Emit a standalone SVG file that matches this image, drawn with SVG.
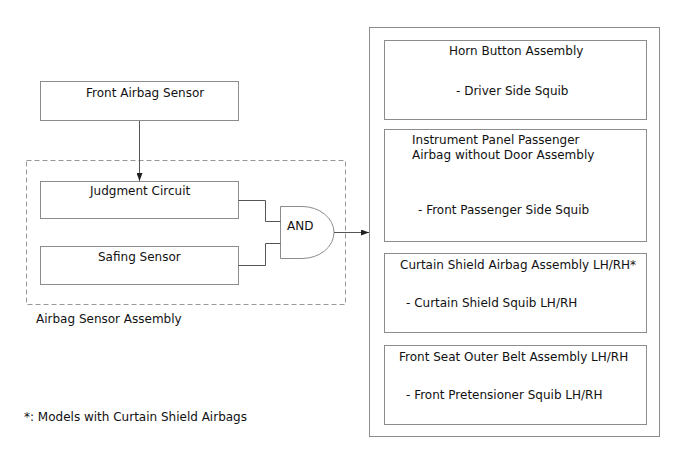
<svg xmlns="http://www.w3.org/2000/svg" width="688" height="463" viewBox="0 0 688 463">
<style>
.box{fill:#fff;stroke:#8c8c8c;stroke-width:1}
.ln{fill:none;stroke:#555;stroke-width:1}
text{font-family:"DejaVu Sans",sans-serif;font-size:12px;fill:#111}
</style>
<defs>
<marker id="ah" markerWidth="8" markerHeight="6" refX="8" refY="3" orient="auto" markerUnits="userSpaceOnUse">
<path d="M0,0 L8,3 L0,6 z" fill="#222"/>
</marker>
</defs>
<rect width="688" height="463" fill="#fff"/>
<g id="sensor-assembly">
<rect x="26.5" y="160.5" width="319" height="144" fill="none" stroke="#999" stroke-dasharray="5,3"/>
<text x="36" y="323">Airbag Sensor Assembly</text>
</g>
<g id="front-airbag-sensor">
<rect class="box" x="40.5" y="81.5" width="198" height="39"/>
<text x="86" y="97">Front Airbag Sensor</text>
</g>
<g id="judgment-circuit">
<rect class="box" x="40.5" y="181.5" width="198" height="37"/>
<text x="90" y="195">Judgment Circuit</text>
</g>
<g id="safing-sensor">
<rect class="box" x="40.5" y="246.5" width="198" height="38"/>
<text x="98" y="261">Safing Sensor</text>
</g>
<g id="and-gate">
<path class="box" d="M280.5,206.5 H302 A32,26 0 0 1 302,258.5 H280.5 Z"/>
<text x="287" y="230">AND</text>
</g>
<g id="squib-group">
<rect class="box" x="369.5" y="27.5" width="290" height="409"/>
</g>
<g id="horn">
<rect class="box" x="384.5" y="40.5" width="262" height="79"/>
<text x="449" y="55">Horn Button Assembly</text>
<text x="456" y="95">- Driver Side Squib</text>
</g>
<g id="instrument-panel">
<rect class="box" x="384.5" y="129.5" width="262" height="112"/>
<text x="412" y="144">Instrument Panel Passenger</text>
<text x="412" y="159">Airbag without Door Assembly</text>
<text x="418" y="214">- Front Passenger Side Squib</text>
</g>
<g id="curtain-shield">
<rect class="box" x="384.5" y="253.5" width="262" height="79"/>
<text x="400" y="269">Curtain Shield Airbag Assembly LH/RH*</text>
<text x="406" y="307">- Curtain Shield Squib LH/RH</text>
</g>
<g id="front-seat-belt">
<rect class="box" x="384.5" y="345.5" width="262" height="79"/>
<text x="399" y="361">Front Seat Outer Belt Assembly LH/RH</text>
<text x="406" y="399">- Front Pretensioner Squib LH/RH</text>
</g>
<g id="footnote">
<text x="24" y="421">*: Models with Curtain Shield Airbags</text>
</g>
<g id="connectors">
<line class="ln" x1="139.5" y1="121" x2="139.5" y2="181" marker-end="url(#ah)"/>
<polyline class="ln" points="238.5,200.5 265.5,200.5 265.5,221.5 280.5,221.5"/>
<polyline class="ln" points="238.5,265.5 265.5,265.5 265.5,243.5 280.5,243.5"/>
<line class="ln" x1="334" y1="232.5" x2="369" y2="232.5" marker-end="url(#ah)"/>
</g>
</svg>
